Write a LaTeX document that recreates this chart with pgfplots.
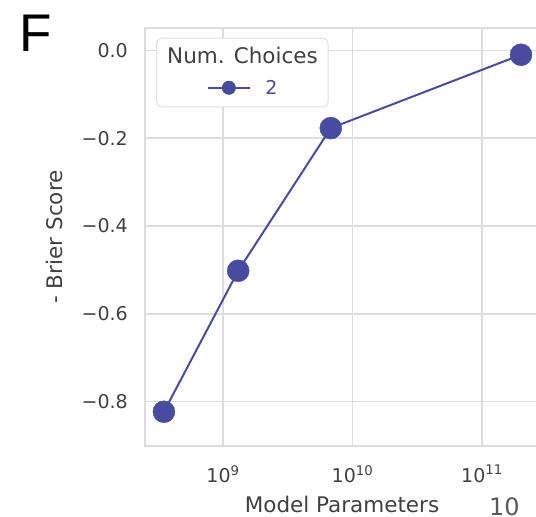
\documentclass[border=0pt]{standalone}
\usepackage{pgfplots}
\pgfplotsset{compat=1.18}
\usepackage{fontspec}
\setmainfont{DejaVu Sans}
\newfontfamily\arialfont{Liberation Sans}
\definecolor{sb}{RGB}{72,76,161}
\definecolor{gridc}{RGB}{220,220,220}
\definecolor{txt}{RGB}{64,64,64}
\begin{document}
\begin{tikzpicture}
\begin{axis}[
  at={(0,0)}, anchor=south west,
  scale only axis, width=394bp, height=418bp,
  xmode=log, xmin=2.50e8, xmax=2.754e11,
  ymin=-0.901, ymax=0.051,
  xtick={1e9,1e10,1e11},
  xticklabels={10\textsuperscript{9},10\textsuperscript{10},10\textsuperscript{11}},
  ytick={-0.8,-0.6,-0.4,-0.2,0},
  yticklabels={−0.8,−0.6,−0.4,−0.2,0.0},
  major tick length=0pt, minor tick length=0pt,
  xmajorgrids, ymajorgrids,
  grid style={gridc, line width=1.5bp},
  axis line style={gridc, line width=1.5bp},
  tick label style={font=\fontsize{19bp}{22bp}\selectfont, text=txt, inner sep=0pt},
  xticklabel shift=19bp, yticklabel shift=17bp,
  xlabel={Model Parameters}, ylabel={- Brier Score},
  every axis x label/.style={at={(axis description cs:0.5,-0.158)}, anchor=base, inner sep=0pt, text=txt, font=\fontsize{21.5bp}{24bp}\selectfont},
  every axis y label/.style={at={(axis description cs:-0.21,0.5)}, anchor=base, rotate=90, inner sep=0pt, text=txt, font=\fontsize{21.5bp}{24bp}\selectfont},
  legend style={draw=none, fill=none, at={(rel axis cs:0.157,0.857)}, anchor=west,
    inner sep=0pt, outer sep=0pt,
    nodes={inner sep=0pt, text=sb, font=\fontsize{19bp}{22bp}\selectfont},
    /tikz/every odd column/.append style={column sep=14.5bp}},
  legend image code/.code={\draw[sb, line width=2bp] (0bp,0bp) -- (42bp,0bp); \fill[sb] (21bp,0bp) circle (6bp);},
]
\addplot[color=sb, line width=2bp, mark=*, mark size=11bp, mark options={fill=sb, draw=sb, line width=0.4bp}] coordinates {
  (3.5e8,-0.823) (1.31e9,-0.502) (6.8e9,-0.177) (2.0e11,-0.010)
};
\addlegendentry{2}
\draw[draw=gray!25, fill=white, line width=1bp, rounded corners=5bp] (rel axis cs:0.0297,0.811) rectangle (rel axis cs:0.4645,0.976);
\node[anchor=base, inner sep=0pt, text=txt, font=\fontsize{21.5bp}{24bp}\selectfont] at (rel axis cs:0.2475,0.914) {Num. Choices};
\end{axis}
\node[anchor=base west, inner sep=0pt, font=\arialfont\fontsize{53bp}{60bp}\selectfont] at (-126bp,394bp) {F};
\node[anchor=base west, inner sep=0pt, text=black!65, font=\fontsize{24bp}{28bp}\selectfont] at (344bp,-69bp) {10};
\pgfresetboundingbox
\useasboundingbox (-145bp,-71bp) rectangle (391bp,446bp);
\end{tikzpicture}
\end{document}
